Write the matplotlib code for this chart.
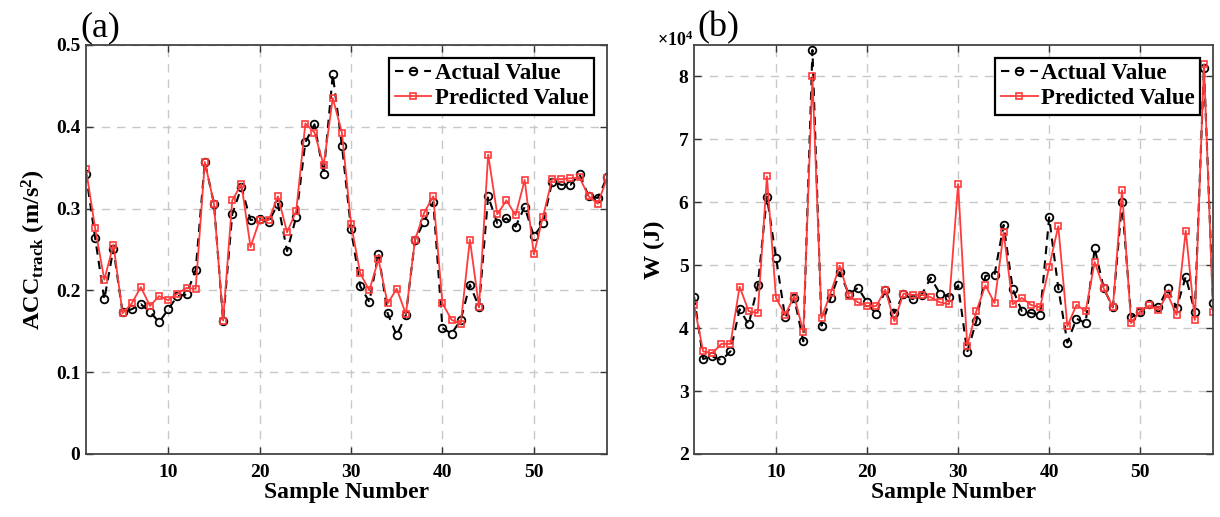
import numpy as np
import matplotlib
matplotlib.use("Agg")
import matplotlib.pyplot as plt
from matplotlib.ticker import FixedLocator

plt.rcParams['font.family'] = ['Liberation Serif', 'DejaVu Serif']
plt.rcParams['mathtext.fontset'] = 'custom'
plt.rcParams['mathtext.rm'] = 'Liberation Serif:bold'
plt.rcParams['mathtext.it'] = 'Liberation Serif:bold'
plt.rcParams['mathtext.bf'] = 'Liberation Serif:bold'

samples = np.arange(1, 59)

acc_actual = [0.342, 0.264, 0.189, 0.251, 0.173, 0.177, 0.183, 0.174, 0.161, 0.177,
              0.193, 0.195, 0.225, 0.357, 0.306, 0.163, 0.293, 0.326, 0.286, 0.287,
              0.284, 0.306, 0.248, 0.290, 0.381, 0.403, 0.342, 0.464, 0.377, 0.275,
              0.205, 0.186, 0.245, 0.172, 0.145, 0.170, 0.262, 0.284, 0.308, 0.154,
              0.147, 0.164, 0.207, 0.180, 0.315, 0.282, 0.288, 0.278, 0.302, 0.266,
              0.282, 0.333, 0.329, 0.329, 0.342, 0.315, 0.313, 0.338]
acc_pred = [0.348, 0.276, 0.213, 0.256, 0.172, 0.184, 0.204, 0.181, 0.193, 0.188,
            0.196, 0.203, 0.202, 0.357, 0.306, 0.163, 0.310, 0.330, 0.253, 0.286,
            0.286, 0.315, 0.271, 0.297, 0.404, 0.393, 0.353, 0.435, 0.393, 0.281,
            0.221, 0.200, 0.238, 0.184, 0.202, 0.171, 0.262, 0.295, 0.315, 0.184,
            0.164, 0.159, 0.262, 0.180, 0.366, 0.293, 0.310, 0.292, 0.335, 0.244,
            0.290, 0.336, 0.336, 0.337, 0.338, 0.315, 0.306, 0.337]

w_actual = [4.50, 3.51, 3.55, 3.49, 3.63, 4.30, 4.06, 4.68, 6.09, 5.12,
            4.17, 4.48, 3.79, 8.42, 4.04, 4.48, 4.89, 4.54, 4.64, 4.41,
            4.22, 4.61, 4.24, 4.54, 4.46, 4.53, 4.80, 4.55, 4.50, 4.68,
            3.62, 4.11, 4.83, 4.85, 5.64, 4.62, 4.27, 4.24, 4.21, 5.76,
            4.64, 3.77, 4.15, 4.08, 5.27, 4.63, 4.33, 6.00, 4.17, 4.25,
            4.38, 4.33, 4.63, 4.32, 4.82, 4.26, 8.14, 4.40]
w_pred = [4.37, 3.63, 3.60, 3.75, 3.75, 4.66, 4.27, 4.24, 6.41, 4.48,
          4.21, 4.51, 3.94, 8.00, 4.16, 4.56, 4.99, 4.51, 4.41, 4.35,
          4.35, 4.61, 4.11, 4.55, 4.53, 4.53, 4.49, 4.41, 4.38, 6.29,
          3.72, 4.27, 4.68, 4.40, 5.52, 4.38, 4.48, 4.37, 4.33, 4.97,
          5.62, 4.03, 4.37, 4.27, 5.05, 4.63, 4.33, 6.19, 4.08, 4.27,
          4.36, 4.29, 4.54, 4.21, 5.55, 4.13, 8.19, 4.26]

x_ticks = [10, 20, 30, 40, 50]
acc_ticks = [0, 0.1, 0.2, 0.3, 0.4, 0.5]
acc_tick_labels = ['0', '0.1', '0.2', '0.3', '0.4', '0.5']
w_ticks = [2, 3, 4, 5, 6, 7, 8]
w_tick_labels = ['2', '3', '4', '5', '6', '7', '8']

fig = plt.figure(figsize=(12.2, 5.17), dpi=100)
ax_a = fig.add_axes([0.0705, 0.1219, 0.4270, 0.7911])
ax_b = fig.add_axes([0.5689, 0.1219, 0.4254, 0.7911])


def style_axes(ax, yticks, ylabels, ylim):
    ax.set_xlim(1, 58)
    ax.set_ylim(*ylim)
    ax.xaxis.set_major_locator(FixedLocator(x_ticks))
    ax.set_xticklabels([str(t) for t in x_ticks], fontweight='bold', fontsize=14)
    ax.set_yticks(yticks)
    ax.set_yticklabels(ylabels, fontweight='bold', fontsize=14)
    ax.tick_params(direction='in', top=True, right=True, length=5, width=1,
                   colors='#333333', labelcolor='black', pad=4)
    ax.tick_params(axis='x', pad=7)
    ax.grid(True, linestyle=(0, (6, 5)), color='#c8c8c8', linewidth=1.0)
    ax.set_axisbelow(True)
    for sp in ax.spines.values():
        sp.set_color('#444444')
        sp.set_linewidth(1.3)
    ax.set_xlabel('Sample Number', fontsize=17, fontweight='bold', labelpad=1)


def draw_series(ax, actual, pred):
    ax.plot(samples, actual, linestyle=(0, (4, 3)), color='black', linewidth=1.5,
            marker='o', markersize=5.5, markerfacecolor='none',
            markeredgecolor='black', markeredgewidth=1.3, label='Actual Value')
    ax.plot(samples, pred, linestyle='-', color='#ff3b3b', linewidth=1.3,
            marker='s', markersize=4.8, markerfacecolor='none',
            markeredgecolor='#ff3b3b', markeredgewidth=1.2, label='Predicted Value')
    leg = ax.legend(loc='upper right', prop={'weight': 'bold', 'size': 16.5},
                    frameon=True, fancybox=False, borderpad=0.25, labelspacing=0.15,
                    handlelength=1.6, handletextpad=0.15, borderaxespad=0.55)
    leg.get_frame().set_edgecolor('black')
    leg.get_frame().set_linewidth(1.6)
    leg.get_frame().set_alpha(1.0)


draw_series(ax_a, acc_actual, acc_pred)
style_axes(ax_a, acc_ticks, acc_tick_labels, (0, 0.5))
ax_a.set_ylabel(r'ACC$_{\mathrm{track}}$ (m/s$^{2}$)', fontsize=17.5,
                fontweight='bold', labelpad=6)

draw_series(ax_b, w_actual, w_pred)
style_axes(ax_b, w_ticks, w_tick_labels, (2, 8.5))
ax_b.set_ylabel('W (J)', fontsize=17.5, fontweight='bold', labelpad=10)
ax_b.text(-0.002, 1.012, r'$\times\mathbf{10^{4}}$', transform=ax_b.transAxes,
          fontsize=13, fontweight='bold', ha='right', va='center')

fig.text(0.0655, 0.915, '(a)', fontsize=26, ha='left', va='bottom')
fig.text(0.572, 0.915, '(b)', fontsize=26, ha='left', va='bottom')

fig.savefig('out.png', dpi=100)
